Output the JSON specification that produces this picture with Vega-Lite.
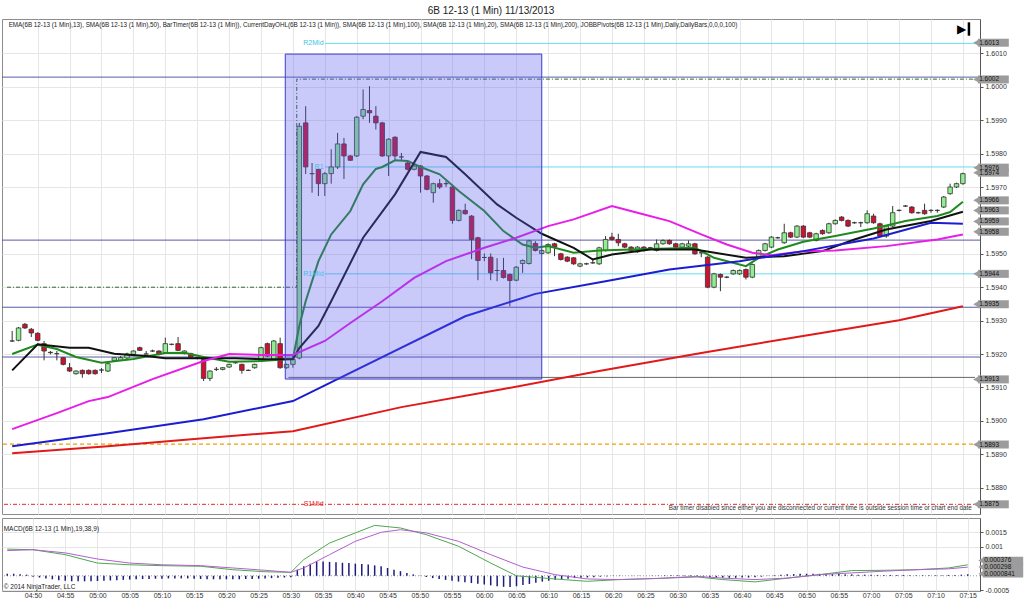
{
"$schema":"https://vega.github.io/schema/vega-lite/v6.json",
"background":"white",
"padding":{"left":0,"top":5,"right":0,"bottom":0},
"title":{"text":"6B 12-13 (1 Min)  11/13/2013","fontSize":10,"fontWeight":"normal","font":"Liberation Sans","color":"#222","offset":3,"anchor":"middle","frame":"group"},
"spacing":2,
"resolve":{"scale":{"color":"independent"}},
"config":{"view":{"stroke":"#8c8c8c"},"font":"Liberation Sans"},
"datasets":{
"candles":[
{"t":286,"o":1.59239,"h":1.59269,"l":1.59236,"c":1.59239},
{"t":287,"o":1.59241,"h":1.59281,"l":1.59238,"c":1.59278},
{"t":288,"o":1.59289,"h":1.59293,"l":1.59275,"c":1.59278},
{"t":289,"o":1.59274,"h":1.59278,"l":1.59251,"c":1.59263},
{"t":290,"o":1.59262,"h":1.59265,"l":1.59238,"c":1.59241},
{"t":291,"o":1.59231,"h":1.59239,"l":1.59181,"c":1.59209},
{"t":292,"o":1.59205,"h":1.59209,"l":1.59199,"c":1.59204},
{"t":293,"o":1.59201,"h":1.59209,"l":1.59181,"c":1.59201},
{"t":294,"o":1.59189,"h":1.59191,"l":1.59166,"c":1.59169},
{"t":295,"o":1.59159,"h":1.59173,"l":1.59146,"c":1.59149},
{"t":296,"o":1.59141,"h":1.59151,"l":1.59138,"c":1.59149},
{"t":297,"o":1.59151,"h":1.59154,"l":1.59129,"c":1.59141},
{"t":298,"o":1.59151,"h":1.59154,"l":1.59138,"c":1.59141},
{"t":299,"o":1.59151,"h":1.59154,"l":1.59138,"c":1.59141},
{"t":300,"o":1.59152,"h":1.59158,"l":1.59143,"c":1.59152},
{"t":301,"o":1.59149,"h":1.59174,"l":1.59146,"c":1.59171},
{"t":302,"o":1.59181,"h":1.59191,"l":1.59179,"c":1.59189},
{"t":303,"o":1.59181,"h":1.59194,"l":1.59179,"c":1.59189},
{"t":304,"o":1.59188,"h":1.59204,"l":1.59184,"c":1.592},
{"t":305,"o":1.59199,"h":1.59211,"l":1.59194,"c":1.59209},
{"t":306,"o":1.59219,"h":1.59222,"l":1.59209,"c":1.59211},
{"t":307,"o":1.592,"h":1.59209,"l":1.592,"c":1.592},
{"t":308,"o":1.59209,"h":1.59213,"l":1.59206,"c":1.59209},
{"t":309,"o":1.59209,"h":1.59211,"l":1.59196,"c":1.59199},
{"t":310,"o":1.59204,"h":1.59249,"l":1.59201,"c":1.59231},
{"t":311,"o":1.59229,"h":1.59231,"l":1.59226,"c":1.59229},
{"t":312,"o":1.59231,"h":1.59251,"l":1.59209,"c":1.59211},
{"t":313,"o":1.59201,"h":1.59211,"l":1.59199,"c":1.59209},
{"t":314,"o":1.59201,"h":1.59204,"l":1.59189,"c":1.59191},
{"t":315,"o":1.59189,"h":1.59191,"l":1.59184,"c":1.59188},
{"t":316,"o":1.59184,"h":1.59189,"l":1.59119,"c":1.59127},
{"t":317,"o":1.59127,"h":1.59151,"l":1.59119,"c":1.59149},
{"t":318,"o":1.59154,"h":1.59161,"l":1.59149,"c":1.59154},
{"t":319,"o":1.59154,"h":1.59161,"l":1.59151,"c":1.59159},
{"t":320,"o":1.59161,"h":1.59171,"l":1.59159,"c":1.59169},
{"t":321,"o":1.59174,"h":1.59179,"l":1.59171,"c":1.59174},
{"t":322,"o":1.59169,"h":1.59171,"l":1.59141,"c":1.59151},
{"t":323,"o":1.59151,"h":1.59154,"l":1.59149,"c":1.59151},
{"t":324,"o":1.59159,"h":1.59171,"l":1.59156,"c":1.59169},
{"t":325,"o":1.59179,"h":1.59222,"l":1.59176,"c":1.59219},
{"t":326,"o":1.59231,"h":1.59234,"l":1.59191,"c":1.59194},
{"t":327,"o":1.59181,"h":1.59242,"l":1.59179,"c":1.59239},
{"t":328,"o":1.59231,"h":1.59249,"l":1.59156,"c":1.59159},
{"t":329,"o":1.59159,"h":1.59171,"l":1.59156,"c":1.59169},
{"t":330,"o":1.59169,"h":1.59194,"l":1.59159,"c":1.59184},
{"t":331,"o":1.59188,"h":1.59892,"l":1.59184,"c":1.59882},
{"t":332,"o":1.59892,"h":1.59942,"l":1.59739,"c":1.5976},
{"t":333,"o":1.5974,"h":1.59772,"l":1.59683,"c":1.5974},
{"t":334,"o":1.59753,"h":1.59754,"l":1.59673,"c":1.5971},
{"t":335,"o":1.5971,"h":1.59745,"l":1.59673,"c":1.5974},
{"t":336,"o":1.5974,"h":1.59813,"l":1.5971,"c":1.5976},
{"t":337,"o":1.5976,"h":1.59862,"l":1.59754,"c":1.59829},
{"t":338,"o":1.59829,"h":1.59847,"l":1.59724,"c":1.59793},
{"t":339,"o":1.59793,"h":1.59795,"l":1.59778,"c":1.5978},
{"t":340,"o":1.59793,"h":1.59912,"l":1.5979,"c":1.59909},
{"t":341,"o":1.59912,"h":1.59992,"l":1.59903,"c":1.59932},
{"t":342,"o":1.59929,"h":1.60002,"l":1.59892,"c":1.59922},
{"t":343,"o":1.59912,"h":1.59942,"l":1.59872,"c":1.59892},
{"t":344,"o":1.59892,"h":1.59895,"l":1.5979,"c":1.59793},
{"t":345,"o":1.59793,"h":1.59846,"l":1.59733,"c":1.59843},
{"t":346,"o":1.59849,"h":1.59852,"l":1.59778,"c":1.59793},
{"t":347,"o":1.5979,"h":1.59802,"l":1.59778,"c":1.5979},
{"t":348,"o":1.59772,"h":1.59775,"l":1.5975,"c":1.59753},
{"t":349,"o":1.59753,"h":1.59766,"l":1.5975,"c":1.59763},
{"t":350,"o":1.59763,"h":1.59766,"l":1.59683,"c":1.59733},
{"t":351,"o":1.59733,"h":1.59736,"l":1.5969,"c":1.59693},
{"t":352,"o":1.59683,"h":1.59713,"l":1.59653,"c":1.5971},
{"t":353,"o":1.5971,"h":1.59724,"l":1.59694,"c":1.597},
{"t":354,"o":1.5971,"h":1.59718,"l":1.597,"c":1.5971},
{"t":355,"o":1.597,"h":1.59703,"l":1.5959,"c":1.596},
{"t":356,"o":1.596,"h":1.59633,"l":1.59597,"c":1.5963},
{"t":357,"o":1.5963,"h":1.5965,"l":1.59617,"c":1.5962},
{"t":358,"o":1.59613,"h":1.59616,"l":1.59484,"c":1.59543},
{"t":359,"o":1.59548,"h":1.59551,"l":1.59421,"c":1.5948},
{"t":360,"o":1.59489,"h":1.59501,"l":1.59478,"c":1.59489},
{"t":361,"o":1.5949,"h":1.59501,"l":1.59421,"c":1.59443},
{"t":362,"o":1.5945,"h":1.59487,"l":1.59418,"c":1.5945},
{"t":363,"o":1.5945,"h":1.59488,"l":1.59426,"c":1.59429},
{"t":364,"o":1.59438,"h":1.59441,"l":1.59343,"c":1.5942},
{"t":365,"o":1.59421,"h":1.59463,"l":1.59418,"c":1.5946},
{"t":366,"o":1.59471,"h":1.59483,"l":1.59443,"c":1.5948},
{"t":367,"o":1.59471,"h":1.59542,"l":1.59468,"c":1.59539},
{"t":368,"o":1.59531,"h":1.59538,"l":1.59507,"c":1.5951},
{"t":369,"o":1.59501,"h":1.59513,"l":1.59498,"c":1.5951},
{"t":370,"o":1.59503,"h":1.59531,"l":1.595,"c":1.59528},
{"t":371,"o":1.5953,"h":1.59533,"l":1.59493,"c":1.5952},
{"t":372,"o":1.595,"h":1.59503,"l":1.5948,"c":1.59483},
{"t":373,"o":1.5949,"h":1.59493,"l":1.59475,"c":1.59478},
{"t":374,"o":1.59488,"h":1.5949,"l":1.59467,"c":1.5947},
{"t":375,"o":1.59463,"h":1.59473,"l":1.5946,"c":1.5947},
{"t":376,"o":1.5947,"h":1.59473,"l":1.59467,"c":1.5947},
{"t":377,"o":1.59473,"h":1.59487,"l":1.5947,"c":1.59473},
{"t":378,"o":1.5947,"h":1.59521,"l":1.59467,"c":1.59518},
{"t":379,"o":1.5951,"h":1.59553,"l":1.59507,"c":1.59543},
{"t":380,"o":1.5955,"h":1.59563,"l":1.5954,"c":1.59543},
{"t":381,"o":1.59543,"h":1.5956,"l":1.59523,"c":1.59533},
{"t":382,"o":1.5953,"h":1.59533,"l":1.59517,"c":1.5952},
{"t":383,"o":1.5952,"h":1.59523,"l":1.59507,"c":1.5951},
{"t":384,"o":1.59506,"h":1.59523,"l":1.59503,"c":1.5952},
{"t":385,"o":1.5952,"h":1.59523,"l":1.59507,"c":1.5951},
{"t":386,"o":1.59518,"h":1.59521,"l":1.59515,"c":1.59518},
{"t":387,"o":1.5951,"h":1.59543,"l":1.59507,"c":1.5953},
{"t":388,"o":1.5953,"h":1.59543,"l":1.59527,"c":1.5954},
{"t":389,"o":1.5954,"h":1.59543,"l":1.59527,"c":1.5953},
{"t":390,"o":1.5953,"h":1.59533,"l":1.59517,"c":1.5952},
{"t":391,"o":1.5952,"h":1.59533,"l":1.59517,"c":1.5953},
{"t":392,"o":1.59523,"h":1.5954,"l":1.5952,"c":1.5953},
{"t":393,"o":1.5953,"h":1.59533,"l":1.59497,"c":1.595},
{"t":394,"o":1.59503,"h":1.59506,"l":1.5949,"c":1.59503},
{"t":395,"o":1.5949,"h":1.59493,"l":1.59397,"c":1.594},
{"t":396,"o":1.594,"h":1.59443,"l":1.59397,"c":1.5944},
{"t":397,"o":1.59438,"h":1.59441,"l":1.59388,"c":1.5943},
{"t":398,"o":1.5943,"h":1.59433,"l":1.59427,"c":1.5943},
{"t":399,"o":1.5944,"h":1.59453,"l":1.59437,"c":1.5945},
{"t":400,"o":1.5944,"h":1.59453,"l":1.59437,"c":1.5945},
{"t":401,"o":1.59453,"h":1.59456,"l":1.59423,"c":1.5943},
{"t":402,"o":1.5943,"h":1.59471,"l":1.59427,"c":1.59468},
{"t":403,"o":1.5949,"h":1.59513,"l":1.59487,"c":1.5951},
{"t":404,"o":1.5951,"h":1.59533,"l":1.59507,"c":1.5953},
{"t":405,"o":1.5952,"h":1.59553,"l":1.59517,"c":1.5955},
{"t":406,"o":1.59548,"h":1.59551,"l":1.59545,"c":1.59548},
{"t":407,"o":1.59533,"h":1.5959,"l":1.5953,"c":1.59563},
{"t":408,"o":1.59563,"h":1.59566,"l":1.59547,"c":1.5955},
{"t":409,"o":1.5955,"h":1.59586,"l":1.59547,"c":1.59583},
{"t":410,"o":1.59583,"h":1.59586,"l":1.59547,"c":1.5955},
{"t":411,"o":1.59563,"h":1.59566,"l":1.59547,"c":1.5955},
{"t":412,"o":1.5954,"h":1.59563,"l":1.59537,"c":1.5956},
{"t":413,"o":1.5957,"h":1.59573,"l":1.59557,"c":1.5956},
{"t":414,"o":1.59563,"h":1.59593,"l":1.5956,"c":1.5959},
{"t":415,"o":1.5959,"h":1.59603,"l":1.59587,"c":1.596},
{"t":416,"o":1.5961,"h":1.59613,"l":1.59597,"c":1.596},
{"t":417,"o":1.596,"h":1.59603,"l":1.5958,"c":1.59583},
{"t":418,"o":1.59593,"h":1.59596,"l":1.5959,"c":1.59593},
{"t":419,"o":1.59593,"h":1.59596,"l":1.5958,"c":1.59593},
{"t":420,"o":1.59593,"h":1.5963,"l":1.5959,"c":1.5962},
{"t":421,"o":1.59613,"h":1.5962,"l":1.5959,"c":1.59593},
{"t":422,"o":1.5959,"h":1.59593,"l":1.5955,"c":1.59553},
{"t":423,"o":1.59553,"h":1.59586,"l":1.59548,"c":1.59583},
{"t":424,"o":1.59583,"h":1.59643,"l":1.5958,"c":1.59623},
{"t":425,"o":1.5963,"h":1.59633,"l":1.59627,"c":1.5963},
{"t":426,"o":1.59643,"h":1.59646,"l":1.5964,"c":1.59643},
{"t":427,"o":1.5964,"h":1.59643,"l":1.5962,"c":1.59623},
{"t":428,"o":1.59623,"h":1.59626,"l":1.5962,"c":1.59623},
{"t":429,"o":1.5963,"h":1.5965,"l":1.59617,"c":1.5962},
{"t":430,"o":1.5963,"h":1.59633,"l":1.59623,"c":1.5963},
{"t":431,"o":1.5963,"h":1.59633,"l":1.59623,"c":1.5963},
{"t":432,"o":1.5964,"h":1.59673,"l":1.59637,"c":1.5967},
{"t":433,"o":1.5968,"h":1.5971,"l":1.59677,"c":1.597},
{"t":434,"o":1.597,"h":1.59713,"l":1.59697,"c":1.5971},
{"t":435,"o":1.5971,"h":1.59743,"l":1.59707,"c":1.5974}
],
"ind":[
{"s":"EMA13","t":286,"v":1.592},{"s":"EMA13","t":290,"v":1.59228},{"s":"EMA13","t":293,"v":1.59215},{"s":"EMA13","t":296,"v":1.59191},{"s":"EMA13","t":300,"v":1.59174},{"s":"EMA13","t":305,"v":1.59185},{"s":"EMA13","t":310,"v":1.59203},{"s":"EMA13","t":313,"v":1.59204},{"s":"EMA13","t":316,"v":1.59191},{"s":"EMA13","t":320,"v":1.59177},{"s":"EMA13","t":325,"v":1.59179},{"s":"EMA13","t":330,"v":1.59186},{"s":"EMA13","t":331,"v":1.59284},{"s":"EMA13","t":332,"v":1.59358},{"s":"EMA13","t":334,"v":1.59478},{"s":"EMA13","t":336,"v":1.59558},{"s":"EMA13","t":339,"v":1.59628},{"s":"EMA13","t":341,"v":1.59708},{"s":"EMA13","t":343,"v":1.59754},{"s":"EMA13","t":344,"v":1.5976},{"s":"EMA13","t":346,"v":1.5978},{"s":"EMA13","t":348,"v":1.59778},{"s":"EMA13","t":350,"v":1.5976},{"s":"EMA13","t":353,"v":1.59738},{"s":"EMA13","t":356,"v":1.59688},{"s":"EMA13","t":360,"v":1.59628},{"s":"EMA13","t":363,"v":1.59568},{"s":"EMA13","t":366,"v":1.59528},{"s":"EMA13","t":368,"v":1.59518},{"s":"EMA13","t":370,"v":1.59523},{"s":"EMA13","t":374,"v":1.59503},{"s":"EMA13","t":378,"v":1.5951},{"s":"EMA13","t":383,"v":1.59513},{"s":"EMA13","t":393,"v":1.59518},{"s":"EMA13","t":396,"v":1.59488},{"s":"EMA13","t":401,"v":1.59463},{"s":"EMA13","t":403,"v":1.59488},{"s":"EMA13","t":406,"v":1.59513},{"s":"EMA13","t":410,"v":1.59536},{"s":"EMA13","t":415,"v":1.59553},{"s":"EMA13","t":421,"v":1.59576},{"s":"EMA13","t":426,"v":1.59598},{"s":"EMA13","t":431,"v":1.59613},{"s":"EMA13","t":433,"v":1.59625},{"s":"EMA13","t":435,"v":1.59656},
{"s":"SMA20","t":286,"v":1.59151},{"s":"SMA20","t":290,"v":1.59229},{"s":"SMA20","t":295,"v":1.59219},{"s":"SMA20","t":298,"v":1.59219},{"s":"SMA20","t":302,"v":1.59201},{"s":"SMA20","t":307,"v":1.59194},{"s":"SMA20","t":310,"v":1.59187},{"s":"SMA20","t":316,"v":1.59187},{"s":"SMA20","t":321,"v":1.59187},{"s":"SMA20","t":326,"v":1.59184},{"s":"SMA20","t":330,"v":1.59184},{"s":"SMA20","t":331,"v":1.59218},{"s":"SMA20","t":334,"v":1.59284},{"s":"SMA20","t":336,"v":1.59358},{"s":"SMA20","t":341,"v":1.59548},{"s":"SMA20","t":346,"v":1.59678},{"s":"SMA20","t":350,"v":1.59805},{"s":"SMA20","t":354,"v":1.5979},{"s":"SMA20","t":357,"v":1.59738},{"s":"SMA20","t":362,"v":1.59648},{"s":"SMA20","t":365,"v":1.59608},{"s":"SMA20","t":369,"v":1.5956},{"s":"SMA20","t":374,"v":1.59518},{"s":"SMA20","t":377,"v":1.59483},{"s":"SMA20","t":380,"v":1.59498},{"s":"SMA20","t":386,"v":1.59513},{"s":"SMA20","t":393,"v":1.59513},{"s":"SMA20","t":401,"v":1.59488},{"s":"SMA20","t":407,"v":1.59493},{"s":"SMA20","t":413,"v":1.59508},{"s":"SMA20","t":418,"v":1.59543},{"s":"SMA20","t":423,"v":1.59573},{"s":"SMA20","t":430,"v":1.59598},{"s":"SMA20","t":435,"v":1.59626},
{"s":"SMA50","t":286,"v":1.58975},{"s":"SMA50","t":293,"v":1.59023},{"s":"SMA50","t":298,"v":1.59059},{"s":"SMA50","t":301,"v":1.59071},{"s":"SMA50","t":308,"v":1.59125},{"s":"SMA50","t":316,"v":1.59179},{"s":"SMA50","t":320,"v":1.592},{"s":"SMA50","t":325,"v":1.59197},{"s":"SMA50","t":330,"v":1.59197},{"s":"SMA50","t":335,"v":1.59239},{"s":"SMA50","t":339,"v":1.59293},{"s":"SMA50","t":344,"v":1.59358},{"s":"SMA50","t":349,"v":1.59428},{"s":"SMA50","t":354,"v":1.59478},{"s":"SMA50","t":360,"v":1.59518},{"s":"SMA50","t":365,"v":1.59548},{"s":"SMA50","t":370,"v":1.59583},{"s":"SMA50","t":374,"v":1.59603},{"s":"SMA50","t":380,"v":1.59643},{"s":"SMA50","t":384,"v":1.59623},{"s":"SMA50","t":389,"v":1.59598},{"s":"SMA50","t":394,"v":1.59558},{"s":"SMA50","t":398,"v":1.59528},{"s":"SMA50","t":402,"v":1.59503},{"s":"SMA50","t":405,"v":1.59496},{"s":"SMA50","t":410,"v":1.59508},{"s":"SMA50","t":415,"v":1.5951},{"s":"SMA50","t":423,"v":1.59523},{"s":"SMA50","t":431,"v":1.59543},{"s":"SMA50","t":435,"v":1.59558},
{"s":"SMA100","t":286,"v":1.58924},{"s":"SMA100","t":301,"v":1.58963},{"s":"SMA100","t":316,"v":1.59005},{"s":"SMA100","t":330,"v":1.59059},{"s":"SMA100","t":357,"v":1.59313},{"s":"SMA100","t":368,"v":1.5938},{"s":"SMA100","t":379,"v":1.59418},{"s":"SMA100","t":389,"v":1.59453},{"s":"SMA100","t":400,"v":1.59478},{"s":"SMA100","t":410,"v":1.59508},{"s":"SMA100","t":421,"v":1.59546},{"s":"SMA100","t":430,"v":1.59593},{"s":"SMA100","t":435,"v":1.5959},
{"s":"SMA200","t":286,"v":1.58903},{"s":"SMA200","t":301,"v":1.58924},{"s":"SMA200","t":316,"v":1.58948},{"s":"SMA200","t":330,"v":1.58969},{"s":"SMA200","t":347,"v":1.59041},{"s":"SMA200","t":363,"v":1.59095},{"s":"SMA200","t":378,"v":1.59149},{"s":"SMA200","t":394,"v":1.59203},{"s":"SMA200","t":409,"v":1.59251},{"s":"SMA200","t":425,"v":1.59301},{"s":"SMA200","t":435,"v":1.59343}
],
"blines":[{"p":1.60029},{"p":1.59541},{"p":1.5934},{"p":1.59191}],
"pivots":[{"name":"R2Mid","p":1.6013},{"name":"R1","p":1.5976},{"name":"R1Mid","p":1.5944}],
"s1":[{"name":"S1Mid","p":1.5875}],
"open":[{"p":1.5893}],
"low":[{"p":1.5913,"t1":329.3,"t2":436.9}],
"hstep":[{"i":1,"t":285.19,"v":1.594},{"i":2,"t":330.6,"v":1.594},{"i":3,"t":330.6,"v":1.60023},{"i":4,"t":436.9,"v":1.60023}],
"zone":[{"t1":328.8,"t2":369.0,"p1":1.60098,"p2":1.59125}],
"tags":[{"p":1.60132,"lab":"1.6013"},{"p":1.60022,"lab":"1.6002"},{"p":1.59758,"lab":"1.5976"},{"p":1.59743,"lab":"1.5974"},{"p":1.5966,"lab":"1.5966"},{"p":1.5963,"lab":"1.5963"},{"p":1.59597,"lab":"1.5959"},{"p":1.59566,"lab":"1.5958"},{"p":1.5944,"lab":"1.5944"},{"p":1.59349,"lab":"1.5935"},{"p":1.59124,"lab":"1.5913"},{"p":1.58929,"lab":"1.5893"},{"p":1.5875,"lab":"1.5875"}],
"macd":[
{"s":"MACD","t":286,"v":0.00092},{"s":"MACD","t":290,"v":0.0009},{"s":"MACD","t":295,"v":0.00073},{"s":"MACD","t":300,"v":0.00044},{"s":"MACD","t":305,"v":0.00038},{"s":"MACD","t":310,"v":0.00035},{"s":"MACD","t":316,"v":0.00033},{"s":"MACD","t":321,"v":0.00021},{"s":"MACD","t":326,"v":0.00014},{"s":"MACD","t":330,"v":0.00012},{"s":"MACD","t":332,"v":0.00056},{"s":"MACD","t":336,"v":0.00113},{"s":"MACD","t":340,"v":0.00148},{"s":"MACD","t":343,"v":0.00174},{"s":"MACD","t":347,"v":0.00165},{"s":"MACD","t":351,"v":0.00142},{"s":"MACD","t":356,"v":0.00102},{"s":"MACD","t":361,"v":0.00044},{"s":"MACD","t":365,"v":0.0},{"s":"MACD","t":371,"v":-0.00011},{"s":"MACD","t":376,"v":-0.00019},{"s":"MACD","t":381,"v":-0.00013},{"s":"MACD","t":387,"v":-0.00009},{"s":"MACD","t":393,"v":-0.00004},{"s":"MACD","t":397,"v":-0.00013},{"s":"MACD","t":402,"v":-0.00021},{"s":"MACD","t":407,"v":-0.00008},{"s":"MACD","t":412,"v":0.00004},{"s":"MACD","t":417,"v":0.00018},{"s":"MACD","t":422,"v":0.00019},{"s":"MACD","t":427,"v":0.00021},{"s":"MACD","t":432,"v":0.00027},{"s":"MACD","t":435,"v":0.00038},
{"s":"Avg","t":286,"v":0.00087},{"s":"Avg","t":290,"v":0.0009},{"s":"Avg","t":295,"v":0.00079},{"s":"Avg","t":300,"v":0.00058},{"s":"Avg","t":305,"v":0.00044},{"s":"Avg","t":310,"v":0.00038},{"s":"Avg","t":316,"v":0.00035},{"s":"Avg","t":321,"v":0.00027},{"s":"Avg","t":326,"v":0.00019},{"s":"Avg","t":330,"v":0.00012},{"s":"Avg","t":332,"v":0.00027},{"s":"Avg","t":336,"v":0.00073},{"s":"Avg","t":340,"v":0.00119},{"s":"Avg","t":344,"v":0.0015},{"s":"Avg","t":347,"v":0.00159},{"s":"Avg","t":351,"v":0.00148},{"s":"Avg","t":356,"v":0.00119},{"s":"Avg","t":361,"v":0.00073},{"s":"Avg","t":366,"v":0.0003},{"s":"Avg","t":371,"v":0.00004},{"s":"Avg","t":376,"v":-0.00011},{"s":"Avg","t":381,"v":-0.00013},{"s":"Avg","t":387,"v":-0.00009},{"s":"Avg","t":393,"v":-0.00002},{"s":"Avg","t":397,"v":-0.00008},{"s":"Avg","t":402,"v":-0.00013},{"s":"Avg","t":407,"v":-0.00008},{"s":"Avg","t":412,"v":0.00004},{"s":"Avg","t":417,"v":0.0001},{"s":"Avg","t":422,"v":0.00016},{"s":"Avg","t":427,"v":0.00021},{"s":"Avg","t":432,"v":0.00024},{"s":"Avg","t":435,"v":0.0003}
],
"hist":[
{"t":286,"d":0.00007},{"t":287,"d":0.00007},{"t":288,"d":0.00005},{"t":289,"d":0.00004},{"t":290,"d":-0.00003},{"t":291,"d":-0.00006},{"t":292,"d":-0.00009},{"t":293,"d":-0.00012},{"t":294,"d":-0.00015},{"t":295,"d":-0.00017},{"t":296,"d":-0.00019},{"t":297,"d":-0.00019},{"t":298,"d":-0.00019},{"t":299,"d":-0.00019},{"t":300,"d":-0.00018},{"t":301,"d":-0.00017},{"t":302,"d":-0.00016},{"t":303,"d":-0.00015},{"t":304,"d":-0.00014},{"t":305,"d":-0.00013},{"t":306,"d":-0.00012},{"t":307,"d":-0.00011},{"t":308,"d":-0.00011},{"t":309,"d":-0.0001},{"t":310,"d":-0.0001},{"t":311,"d":-0.00009},{"t":312,"d":-0.00009},{"t":313,"d":-0.00009},{"t":314,"d":-0.00009},{"t":315,"d":-0.0001},{"t":316,"d":-0.00011},{"t":317,"d":-0.00012},{"t":318,"d":-0.00012},{"t":319,"d":-0.00012},{"t":320,"d":-0.00012},{"t":321,"d":-0.00012},{"t":322,"d":-0.00012},{"t":323,"d":-0.00011},{"t":324,"d":-0.00011},{"t":325,"d":-0.0001},{"t":326,"d":-0.00009},{"t":327,"d":-0.00008},{"t":328,"d":-0.00007},{"t":329,"d":-0.00006},{"t":330,"d":-0.00005},
{"t":331,"d":0.00021},{"t":332,"d":0.00033},{"t":333,"d":0.00042},{"t":334,"d":0.0005},{"t":335,"d":0.00049},{"t":336,"d":0.00048},{"t":337,"d":0.00047},{"t":338,"d":0.00045},{"t":339,"d":0.00044},{"t":340,"d":0.00042},{"t":341,"d":0.00041},{"t":342,"d":0.00039},{"t":343,"d":0.00036},{"t":344,"d":0.00033},{"t":345,"d":0.00027},{"t":346,"d":0.00021},{"t":347,"d":0.00016},{"t":348,"d":0.0001},{"t":349,"d":0.00005},{"t":350,"d":0.00001},
{"t":351,"d":-0.00004},{"t":352,"d":-0.00008},{"t":353,"d":-0.00011},{"t":354,"d":-0.00014},{"t":355,"d":-0.00017},{"t":356,"d":-0.0002},{"t":357,"d":-0.00022},{"t":358,"d":-0.00025},{"t":359,"d":-0.00027},{"t":360,"d":-0.0003},{"t":361,"d":-0.00033},{"t":362,"d":-0.00036},{"t":363,"d":-0.00038},{"t":364,"d":-0.00039},{"t":365,"d":-0.00036},{"t":366,"d":-0.00032},{"t":367,"d":-0.00028},{"t":368,"d":-0.00024},{"t":369,"d":-0.0002},{"t":370,"d":-0.00017},{"t":371,"d":-0.00014},{"t":372,"d":-0.00012},{"t":373,"d":-0.0001},{"t":374,"d":-0.00008},{"t":375,"d":-0.00007},{"t":376,"d":-0.00006},{"t":377,"d":-0.00005},{"t":378,"d":-0.00003},{"t":379,"d":-0.00002},{"t":380,"d":-0.00001},
{"t":381,"d":0.00001},{"t":382,"d":0.0},{"t":383,"d":-0.00001},{"t":384,"d":0.00001},{"t":385,"d":0.0},{"t":386,"d":-0.00001},{"t":387,"d":0.00001},{"t":388,"d":0.00002},{"t":389,"d":0.00002},{"t":390,"d":0.00002},{"t":391,"d":0.00002},{"t":392,"d":0.00002},{"t":393,"d":0.00002},
{"t":394,"d":-0.00003},{"t":395,"d":-0.00005},{"t":396,"d":-0.00006},{"t":397,"d":-0.00007},{"t":398,"d":-0.00007},{"t":399,"d":-0.00007},{"t":400,"d":-0.00006},{"t":401,"d":-0.00006},{"t":402,"d":-0.00005},{"t":403,"d":-0.00003},{"t":404,"d":-0.00001},
{"t":405,"d":0.00002},{"t":406,"d":0.00004},{"t":407,"d":0.00005},{"t":408,"d":0.00006},{"t":409,"d":0.00007},{"t":410,"d":0.00007},{"t":411,"d":0.00007},{"t":412,"d":0.00007},{"t":413,"d":0.00006},{"t":414,"d":0.00006},{"t":415,"d":0.00006},{"t":416,"d":0.00005},{"t":417,"d":0.00005},{"t":418,"d":0.00004},{"t":419,"d":0.00004},{"t":420,"d":0.00004},{"t":421,"d":0.00003},{"t":422,"d":0.00003},{"t":423,"d":0.00003},{"t":424,"d":0.00003},{"t":425,"d":0.00003},{"t":426,"d":0.00002},{"t":427,"d":0.00002},{"t":428,"d":0.00002},{"t":429,"d":0.00002},{"t":430,"d":0.00002},{"t":431,"d":0.00002},{"t":432,"d":0.00003},{"t":433,"d":0.00003},{"t":434,"d":0.00004},{"t":435,"d":0.00005}
],
"mtags":[{"v":0.00053,"lab":"0.000376"},{"v":0.0003,"lab":"0.000298"},{"v":0.00007,"lab":"0.0000841"}]
},
"vconcat":[
{"width":978,"height":495,
"layer":[
{"data":{"name":"blines"},"mark":{"type":"rule","color":"#5a5aa8","strokeWidth":1},
 "encoding":{"y":{"field":"p","type":"quantitative","title":null,"scale":{"domain":[1.58721,1.60203],"nice":false,"zero":false},
  "axis":{"orient":"right","values":[1.588,1.589,1.59,1.591,1.592,1.593,1.594,1.595,1.597,1.598,1.599,1.6,1.601],"tickCount":200,"format":".4f","labelOverlap":false,"grid":true,"gridColor":"#e6e6e6","labelFontSize":7,"labelColor":"#333","tickSize":3,"tickColor":"#555","domainColor":"#555","labelPadding":2}}}},
{"data":{"name":"open"},"mark":{"type":"rule","color":"#f0a000","strokeWidth":1.2,"strokeDash":[4,3]},
 "encoding":{"y":{"field":"p","type":"quantitative","title":null,"scale":{"domain":[1.58721,1.60203],"nice":false,"zero":false}}}},
{"data":{"name":"s1"},"mark":{"type":"rule","color":"#e02828","strokeWidth":1,"strokeDash":[4,2,1,2]},
 "encoding":{"y":{"field":"p","type":"quantitative","title":null,"scale":{"domain":[1.58721,1.60203],"nice":false,"zero":false}}}},
{"data":{"name":"pivots"},"mark":{"type":"rule","color":"#66dcf0","strokeWidth":1},
 "encoding":{"x":{"datum":335,"type":"quantitative","scale":{"domain":[285.19,436.9],"nice":false,"zero":false}},"x2":{"datum":436.9},
  "y":{"field":"p","type":"quantitative","title":null,"scale":{"domain":[1.58721,1.60203],"nice":false,"zero":false}}}},
{"data":{"name":"low"},"mark":{"type":"rule","color":"#666666","strokeWidth":1},
 "encoding":{"x":{"field":"t1","type":"quantitative","title":null,"scale":{"domain":[285.19,436.9],"nice":false,"zero":false}},"x2":{"field":"t2"},
  "y":{"field":"p","type":"quantitative","title":null,"scale":{"domain":[1.58721,1.60203],"nice":false,"zero":false}}}},
{"data":{"name":"hstep"},"mark":{"type":"line","color":"#2e6b2e","strokeWidth":1,"strokeDash":[4,2,1,2]},
 "encoding":{"x":{"field":"t","type":"quantitative","title":null,"scale":{"domain":[285.19,436.9],"nice":false,"zero":false}},
  "y":{"field":"v","type":"quantitative","title":null,"scale":{"domain":[1.58721,1.60203],"nice":false,"zero":false}},"order":{"field":"i"}}},
{"data":{"name":"candles"},"mark":{"type":"rule","color":"#333333","strokeWidth":1},
 "encoding":{"x":{"field":"t","type":"quantitative","title":null,"scale":{"domain":[285.19,436.9],"nice":false,"zero":false},
  "axis":{"values":[290,295,300,305,310,315,320,325,330,335,340,345,350,355,360,365,370,375,380,385,390,395,400,405,410,415,420,425,430,435],"tickCount":200,"grid":true,"gridColor":"#e6e6e6","labels":false,"ticks":false,"domain":false}},
  "y":{"field":"l","type":"quantitative","title":null,"scale":{"domain":[1.58721,1.60203],"nice":false,"zero":false}},"y2":{"field":"h"}}},
{"data":{"name":"candles"},"mark":{"type":"bar","width":4.5,"stroke":"#333333","strokeWidth":0.8},
 "encoding":{"x":{"field":"t","type":"quantitative","title":null,"scale":{"domain":[285.19,436.9],"nice":false,"zero":false}},
  "y":{"field":"o","type":"quantitative","title":null,"scale":{"domain":[1.58721,1.60203],"nice":false,"zero":false}},"y2":{"field":"c"},
  "fill":{"condition":{"test":"datum.c >= datum.o","value":"#90ee90"},"value":"#d0102e"}}},
{"data":{"name":"ind"},"mark":{"type":"line","strokeWidth":2},
 "encoding":{"x":{"field":"t","type":"quantitative","title":null,"scale":{"domain":[285.19,436.9],"nice":false,"zero":false}},
  "y":{"field":"v","type":"quantitative","title":null,"scale":{"domain":[1.58721,1.60203],"nice":false,"zero":false}},
  "color":{"field":"s","type":"nominal","legend":null,"scale":{"domain":["EMA13","SMA20","SMA50","SMA100","SMA200"],"range":["#1e8a1e","#111111","#e81ee8","#1c1cd0","#e01a1a"]}}}},
{"data":{"name":"zone"},"mark":{"type":"rect","fill":"#5c5cf0","fillOpacity":0.33,"stroke":"#3c3cc8","strokeWidth":1},
 "encoding":{"x":{"field":"t1","type":"quantitative","title":null,"scale":{"domain":[285.19,436.9],"nice":false,"zero":false}},"x2":{"field":"t2"},
  "y":{"field":"p1","type":"quantitative","title":null,"scale":{"domain":[1.58721,1.60203],"nice":false,"zero":false}},"y2":{"field":"p2"}}},
{"data":{"name":"pivots"},"mark":{"type":"text","align":"right","baseline":"middle","fontSize":7,"color":"#3fbfea"},
 "encoding":{"x":{"datum":334.8,"type":"quantitative","scale":{"domain":[285.19,436.9],"nice":false,"zero":false}},
  "y":{"field":"p","type":"quantitative","title":null,"scale":{"domain":[1.58721,1.60203],"nice":false,"zero":false}},"text":{"field":"name"}}},
{"data":{"name":"s1"},"mark":{"type":"text","align":"right","baseline":"middle","fontSize":7,"color":"#e02828"},
 "encoding":{"x":{"datum":334.8,"type":"quantitative","scale":{"domain":[285.19,436.9],"nice":false,"zero":false}},
  "y":{"field":"p","type":"quantitative","title":null,"scale":{"domain":[1.58721,1.60203],"nice":false,"zero":false}},"text":{"field":"name"}}},
{"data":{"values":[{"txt":"EMA(6B 12-13 (1 Min),13), SMA(6B 12-13 (1 Min),50), BarTimer(6B 12-13 (1 Min)), CurrentDayOHL(6B 12-13 (1 Min)), SMA(6B 12-13 (1 Min),100), SMA(6B 12-13 (1 Min),20), SMA(6B 12-13 (1 Min),200), JOBBPivots(6B 12-13 (1 Min),Daily,DailyBars,0,0,0,100)"}]},
 "mark":{"type":"text","align":"left","baseline":"middle","fontSize":6.3,"color":"#222"},
 "encoding":{"x":{"datum":285.45,"type":"quantitative","scale":{"domain":[285.19,436.9],"nice":false,"zero":false}},
  "y":{"datum":1.60185,"type":"quantitative","scale":{"domain":[1.58721,1.60203],"nice":false,"zero":false}},"text":{"field":"txt"}}},
{"data":{"values":[{"txt":"Bar timer disabled since either you are disconnected or current time is outside session time or chart end date"}]},
 "mark":{"type":"text","align":"right","baseline":"middle","fontSize":6.3,"color":"#333"},
 "encoding":{"x":{"datum":436.4,"type":"quantitative","scale":{"domain":[285.19,436.9],"nice":false,"zero":false}},
  "y":{"datum":1.58739,"type":"quantitative","scale":{"domain":[1.58721,1.60203],"nice":false,"zero":false}},"text":{"field":"txt"}}},
{"data":{"values":[{"txt":"▶"}]},
 "mark":{"type":"text","align":"center","baseline":"middle","fontSize":12,"color":"#000"},
 "encoding":{"x":{"datum":434.75,"type":"quantitative","scale":{"domain":[285.19,436.9],"nice":false,"zero":false}},
  "y":{"datum":1.60173,"type":"quantitative","scale":{"domain":[1.58721,1.60203],"nice":false,"zero":false}},"text":{"field":"txt"}}},
{"data":{"values":[{"k":1}]},"mark":{"type":"rule","color":"#000","strokeWidth":2.5},
 "encoding":{"x":{"datum":435.95,"type":"quantitative","scale":{"domain":[285.19,436.9],"nice":false,"zero":false}},
  "y":{"datum":1.60153,"type":"quantitative","scale":{"domain":[1.58721,1.60203],"nice":false,"zero":false}},"y2":{"datum":1.60193}}},
{"data":{"name":"tags"},"mark":{"type":"rule","color":"#9c9c9c","strokeWidth":8},
 "encoding":{"x":{"datum":437.35,"type":"quantitative","scale":{"domain":[285.19,436.9],"nice":false,"zero":false}},"x2":{"datum":442.2},
  "y":{"field":"p","type":"quantitative","title":null,"scale":{"domain":[1.58721,1.60203],"nice":false,"zero":false}}}},
{"data":{"name":"tags"},"mark":{"type":"point","shape":"triangle-left","filled":true,"size":40,"color":"#9c9c9c","opacity":1},
 "encoding":{"x":{"datum":437.05,"type":"quantitative","scale":{"domain":[285.19,436.9],"nice":false,"zero":false}},
  "y":{"field":"p","type":"quantitative","title":null,"scale":{"domain":[1.58721,1.60203],"nice":false,"zero":false}}}},
{"data":{"name":"tags"},"mark":{"type":"text","align":"left","baseline":"middle","fontSize":6.5,"color":"#111"},
 "encoding":{"x":{"datum":437.55,"type":"quantitative","scale":{"domain":[285.19,436.9],"nice":false,"zero":false}},
  "y":{"field":"p","type":"quantitative","title":null,"scale":{"domain":[1.58721,1.60203],"nice":false,"zero":false}},"text":{"field":"lab"}}}
]},
{"width":978,"height":73,
"layer":[
{"data":{"values":[{"z":0}]},"mark":{"type":"rule","color":"#999999","strokeWidth":1,"strokeDash":[1,2]},
 "encoding":{"y":{"field":"z","type":"quantitative","title":null,"scale":{"domain":[-0.000524,0.001994],"nice":false,"zero":false},
  "axis":{"orient":"right","values":[-0.0005,0.001,0.0015],"tickCount":50,"labelOverlap":false,"labelExpr":"'' + datum.value","grid":true,"gridColor":"#e6e6e6","labelFontSize":7,"labelColor":"#333","tickSize":3,"tickColor":"#555","domainColor":"#555","labelPadding":2}}}},
{"data":{"name":"hist"},"mark":{"type":"rule","color":"#1c1c7c","strokeWidth":1.5},
 "encoding":{"x":{"field":"t","type":"quantitative","title":null,"scale":{"domain":[285.19,436.9],"nice":false,"zero":false},
  "axis":{"values":[290,295,300,305,310,315,320,325,330,335,340,345,350,355,360,365,370,375,380,385,390,395,400,405,410,415,420,425,430,435],"tickCount":200,"labelOverlap":false,"labelExpr":"timeFormat(datetime(2013,10,13,0,datum.value),'%H:%M')","grid":true,"gridColor":"#e6e6e6","ticks":false,"domain":false,"labelFontSize":7,"labelColor":"#333","labelPadding":0}},
  "y":{"field":"d","type":"quantitative","title":null,"scale":{"domain":[-0.000524,0.001994],"nice":false,"zero":false}},"y2":{"datum":0}}},
{"data":{"name":"macd"},"mark":{"type":"line","strokeWidth":1},
 "encoding":{"x":{"field":"t","type":"quantitative","title":null,"scale":{"domain":[285.19,436.9],"nice":false,"zero":false}},
  "y":{"field":"v","type":"quantitative","title":null,"scale":{"domain":[-0.000524,0.001994],"nice":false,"zero":false}},
  "color":{"field":"s","type":"nominal","legend":null,"scale":{"domain":["MACD","Avg"],"range":["#4ea84e","#b060d0"]}}}},
{"data":{"values":[{"txt":"MACD(6B 12-13 (1 Min),19,38,9)"}]},
 "mark":{"type":"text","align":"left","baseline":"middle","fontSize":6.5,"color":"#222"},
 "encoding":{"x":{"datum":285.45,"type":"quantitative","scale":{"domain":[285.19,436.9],"nice":false,"zero":false}},
  "y":{"datum":0.001615,"type":"quantitative","scale":{"domain":[-0.000524,0.001994],"nice":false,"zero":false}},"text":{"field":"txt"}}},
{"data":{"values":[{"txt":"© 2014 NinjaTrader, LLC"}]},
 "mark":{"type":"text","align":"left","baseline":"middle","fontSize":6.5,"color":"#222"},
 "encoding":{"x":{"datum":285.45,"type":"quantitative","scale":{"domain":[285.19,436.9],"nice":false,"zero":false}},
  "y":{"datum":-0.000386,"type":"quantitative","scale":{"domain":[-0.000524,0.001994],"nice":false,"zero":false}},"text":{"field":"txt"}}},
{"data":{"name":"mtags"},"mark":{"type":"rule","color":"#9c9c9c","strokeWidth":7.5},
 "encoding":{"x":{"datum":437.35,"type":"quantitative","scale":{"domain":[285.19,436.9],"nice":false,"zero":false}},"x2":{"datum":443.6},
  "y":{"field":"v","type":"quantitative","title":null,"scale":{"domain":[-0.000524,0.001994],"nice":false,"zero":false}}}},
{"data":{"name":"mtags"},"mark":{"type":"point","shape":"triangle-left","filled":true,"size":36,"color":"#9c9c9c","opacity":1},
 "encoding":{"x":{"datum":437.05,"type":"quantitative","scale":{"domain":[285.19,436.9],"nice":false,"zero":false}},
  "y":{"field":"v","type":"quantitative","title":null,"scale":{"domain":[-0.000524,0.001994],"nice":false,"zero":false}}}},
{"data":{"name":"mtags"},"mark":{"type":"text","align":"left","baseline":"middle","fontSize":6.5,"color":"#111"},
 "encoding":{"x":{"datum":437.55,"type":"quantitative","scale":{"domain":[285.19,436.9],"nice":false,"zero":false}},
  "y":{"field":"v","type":"quantitative","title":null,"scale":{"domain":[-0.000524,0.001994],"nice":false,"zero":false}},"text":{"field":"lab"}}}
]}
]
}
